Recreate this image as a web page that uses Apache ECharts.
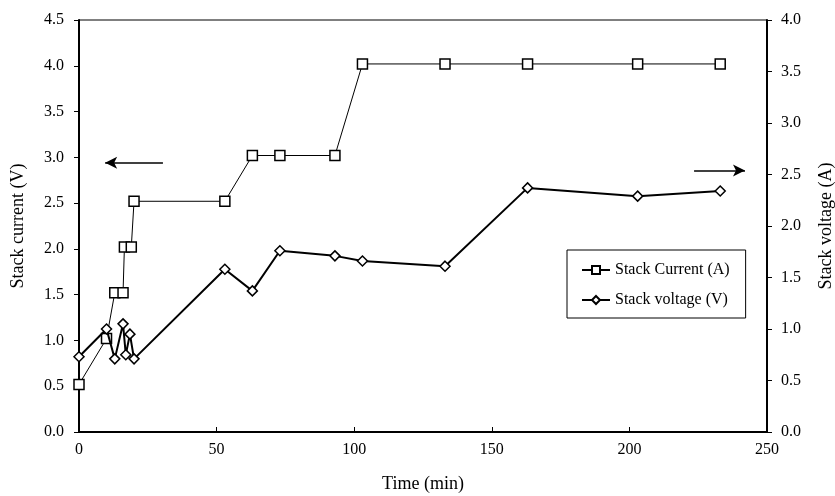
<!DOCTYPE html>
<html>
<head>
<meta charset="utf-8">
<script src="https://cdn.jsdelivr.net/npm/echarts@6/dist/echarts.min.js"></script>
<style>
  html, body { margin: 0; padding: 0; background: #fff; }
  #main { width: 835px; height: 496px; }
</style>
</head>
<body>
<div id="main"></div>
<script>
// 电流 (左轴) 与 电压 (右轴) 读数
const currentTime = [0, 10, 13, 16, 16.5, 19, 20, 53, 63, 73, 93, 103, 133, 163, 203, 233]
const currentVals = [0.52, 1.02, 1.52, 1.52, 2.02, 2.02, 2.52, 2.52, 3.02, 3.02, 3.02, 4.02, 4.02, 4.02, 4.02, 4.02]
const voltageTime = [0, 10, 13, 16, 17, 18.5, 20, 53, 63, 73, 93, 103, 133, 163, 203, 233]
const voltageVals = [0.73, 1.0, 0.71, 1.05, 0.75, 0.95, 0.71, 1.58, 1.37, 1.76, 1.71, 1.66, 1.61, 2.37, 2.29, 2.34]
const leftTicks = { min: 0, max: 4.5, interval: 0.5 }
const rightTicks = { min: 0, max: 4.0, interval: 0.5 }
const xTicks = { min: 0, max: 250, interval: 50 }

const font = 'Liberation Serif'
const pair = (xs, ys) => xs.map((x, i) => [x, ys[i]])

const myChart = echarts.init(document.getElementById('main'))
const option = {
  animation: false,
  backgroundColor: '#fff',
  textStyle: { fontFamily: font, color: '#000' },
  grid: {
    left: 79, right: 68, top: 20, bottom: 64,
    outerBoundsMode: 'none',
    show: true, borderColor: '#000', borderWidth: 1
  },
  legend: {
    orient: 'vertical',
    left: 567,
    top: 250,
    padding: [12, 16, 10, 14],
    itemGap: 14,
    itemWidth: 28,
    itemHeight: 10,
    borderColor: '#000',
    borderWidth: 1,
    textStyle: { fontFamily: font, fontSize: 16, color: '#000' },
    data: ['Stack Current (A)', 'Stack voltage (V)']
  },
  xAxis: {
    type: 'value',
    ...xTicks,
    name: 'Time (min)',
    nameLocation: 'middle',
    nameGap: 43,
    nameTextStyle: { fontFamily: font, fontSize: 18, color: '#000' },
    axisLine: { onZero: false, lineStyle: { color: '#000', width: 2 } },
    axisTick: { inside: true, length: 5, lineStyle: { color: '#000' } },
    axisLabel: { fontFamily: font, fontSize: 16, color: '#000', margin: 10 },
    splitLine: { show: false }
  },
  yAxis: [
    {
      type: 'value',
      position: 'left',
      ...leftTicks,
      name: 'Stack current (V)',
      nameLocation: 'middle',
      nameGap: 52,
      nameTextStyle: { fontFamily: font, fontSize: 18, color: '#000' },
      axisLine: { show: true, lineStyle: { color: '#000', width: 2 } },
      axisTick: { show: true, length: 5, lineStyle: { color: '#000' } },
      axisLabel: { fontFamily: font, fontSize: 16, color: '#000', margin: 15, formatter: v => v.toFixed(1) },
      splitLine: { show: false }
    },
    {
      type: 'value',
      position: 'right',
      ...rightTicks,
      name: 'Stack voltage (A)',
      nameLocation: 'middle',
      nameGap: 50,
      nameTextStyle: { fontFamily: font, fontSize: 18, color: '#000' },
      axisLine: { show: true, lineStyle: { color: '#000', width: 2 } },
      axisTick: { show: true, length: 5, lineStyle: { color: '#000' } },
      axisLabel: { fontFamily: font, fontSize: 16, color: '#000', margin: 14, formatter: v => v.toFixed(1) },
      splitLine: { show: false }
    }
  ],
  series: [
    {
      name: 'Stack Current (A)',
      type: 'line',
      yAxisIndex: 0,
      data: pair(currentTime, currentVals),
      symbol: 'rect',
      symbolSize: 10,
      lineStyle: { color: '#000', width: 1 },
      itemStyle: { color: '#fff', borderColor: '#000', borderWidth: 1.5 },
      z: 3,
      markLine: {
        silent: true,
        symbol: ['none', 'arrow'],
        symbolSize: [9, 12],
        label: { show: false },
        lineStyle: { color: '#000', width: 1.5, type: 'solid' },
        data: [[{ coord: [30.5, 2.94] }, { coord: [9.5, 2.94] }]]
      }
    },
    {
      name: 'Stack voltage (V)',
      type: 'line',
      yAxisIndex: 1,
      data: pair(voltageTime, voltageVals),
      symbol: 'diamond',
      symbolSize: 10,
      lineStyle: { color: '#000', width: 2 },
      itemStyle: { color: '#fff', borderColor: '#000', borderWidth: 1.5 },
      z: 4,
      markLine: {
        silent: true,
        symbol: ['none', 'arrow'],
        symbolSize: [9, 12],
        label: { show: false },
        lineStyle: { color: '#000', width: 1.5, type: 'solid' },
        data: [[{ coord: [223.5, 2.54] }, { coord: [242, 2.54] }]]
      }
    }
  ]
}
myChart.setOption(option)
</script>
</body>
</html>
